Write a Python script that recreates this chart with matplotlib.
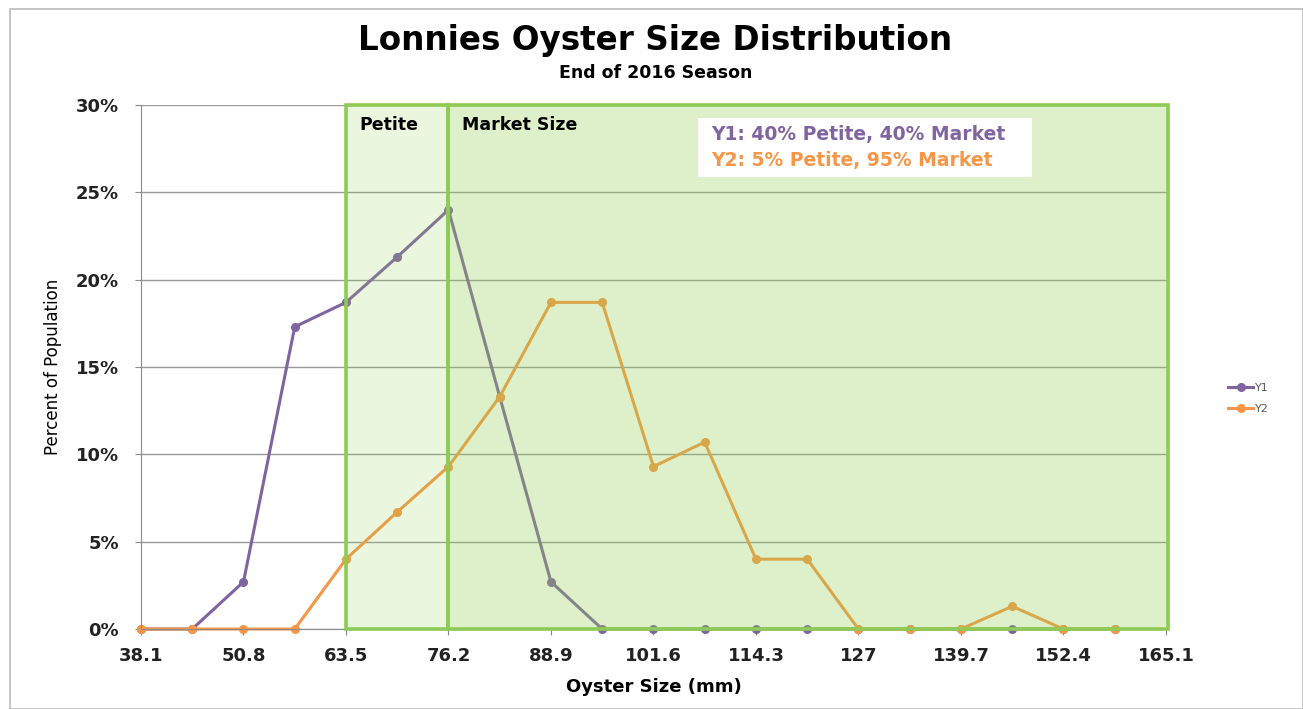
import matplotlib.pyplot as plt
from matplotlib.patches import Rectangle
from matplotlib.ticker import FuncFormatter

# oyster size bins (mm) and percent of population
sizes = [38.1, 44.45, 50.8, 57.15, 63.5, 69.85, 76.2, 82.55, 88.9, 95.25,
         101.6, 107.95, 114.3, 120.65, 127, 133.35, 139.7, 146.05, 152.4, 158.75]
y1 = [0, 0, 2.7, 17.3, 18.7, 21.3, 24.0, 13.3, 2.7, 0,
      0, 0, 0, 0, 0, 0, 0, 0, 0, 0]
y2 = [0, 0, 0, 0, 4.0, 6.7, 9.3, 13.3, 18.7, 18.7,
      9.3, 10.7, 4.0, 4.0, 0, 0, 0, 1.3, 0, 0]
xticks = [38.1, 50.8, 63.5, 76.2, 88.9, 101.6, 114.3, 127, 139.7, 152.4, 165.1]
xtick_labels = ['38.1', '50.8', '63.5', '76.2', '88.9', '101.6', '114.3', '127', '139.7', '152.4', '165.1']
petite = (63.5, 76.2)
market = (76.2, 165.4)

purple = '#8064A2'
orange = '#F79646'
green = '#92D050'
font = 'DejaVu Sans'

fig = plt.figure(figsize=(13.03, 7.09), dpi=100)
ax = fig.add_axes([0.1082, 0.1128, 0.7866, 0.7391])

ax.set_xlim(38.1, 165.1)
ax.set_ylim(0, 30)
ax.set_yticks(range(0, 31, 5))
ax.yaxis.set_major_formatter(FuncFormatter(lambda v, p: '%d%%' % v))
ax.set_xticks(xticks)
ax.set_xticklabels(xtick_labels)
for lab in ax.get_xticklabels() + ax.get_yticklabels():
    lab.set_family(font); lab.set_fontweight('bold'); lab.set_fontsize(13)
    lab.set_color('#222222')
ax.tick_params(axis='x', length=4, color='#888888', pad=9)
ax.tick_params(axis='y', length=4, color='#888888', pad=12)
ax.grid(axis='y', color='#999999', lw=1, zorder=0)
for s in ['top', 'right']:
    ax.spines[s].set_visible(False)
ax.spines['left'].set_color('#8a8a8a')
ax.spines['bottom'].set_color('#8a8a8a')

l1, = ax.plot(sizes, y1, '-o', color=purple, lw=2.2, ms=5.5, zorder=2, clip_on=False, label='Y1')
l2, = ax.plot(sizes, y2, '-o', color=orange, lw=2.2, ms=5.5, zorder=2.1, clip_on=False, label='Y2')

# size class overlays
ax.add_patch(Rectangle((petite[0], 0), petite[1] - petite[0], 30, facecolor=green, alpha=0.18,
                       edgecolor='none', zorder=3, clip_on=False))
ax.add_patch(Rectangle((market[0], 0), market[1] - market[0], 30, facecolor=green, alpha=0.3,
                       edgecolor='none', zorder=3, clip_on=False))
for x0, x1 in [petite, market]:
    ax.add_patch(Rectangle((x0, 0), x1 - x0, 30, facecolor='none', edgecolor='#8DCB55',
                           lw=2.6, zorder=4, clip_on=False))

ax.text(65.2, 28.85, 'Petite', fontsize=12.5, fontweight='bold', family=font, va='center', zorder=5)
ax.text(77.9, 28.85, 'Market Size', fontsize=12.5, fontweight='bold', family=font, va='center', zorder=5)

ax.add_patch(Rectangle((107.1, 25.85), 41.4, 3.4, facecolor='white', edgecolor='none', zorder=5))
ax.text(108.8, 28.3, 'Y1: 40% Petite, 40% Market', color=purple, fontsize=13.5, fontweight='bold',
        family=font, va='center', zorder=6)
ax.text(108.8, 26.85, 'Y2: 5% Petite, 95% Market', color=orange, fontsize=13.5, fontweight='bold',
        family=font, va='center', zorder=6)

ax.set_xlabel('Oyster Size (mm)', fontsize=13, fontweight='bold', family=font, labelpad=9)
ax.set_ylabel('Percent of Population', fontsize=12, family=['Liberation Sans Narrow', 'DejaVu Sans'],
              labelpad=10)

fig.text(0.503, 0.943, 'Lonnies Oyster Size Distribution', ha='center', va='center',
         fontsize=23.5, fontweight='bold', family=font)
fig.text(0.503, 0.897, 'End of 2016 Season', ha='center', va='center',
         fontsize=12.5, fontweight='bold', family=font)

leg = fig.legend(handles=[l1, l2], loc='center left', bbox_to_anchor=(0.935, 0.438),
                 frameon=False, fontsize=8, handlelength=2.2, labelspacing=1.0, handletextpad=0.2)
for t in leg.get_texts():
    t.set_color('#555555')

fig.patches.append(Rectangle((0.008, 0.0), 0.992, 0.988, transform=fig.transFigure,
                             fill=False, edgecolor='#bbbbbb', lw=1.2))

fig.savefig('out.png', dpi=100)
